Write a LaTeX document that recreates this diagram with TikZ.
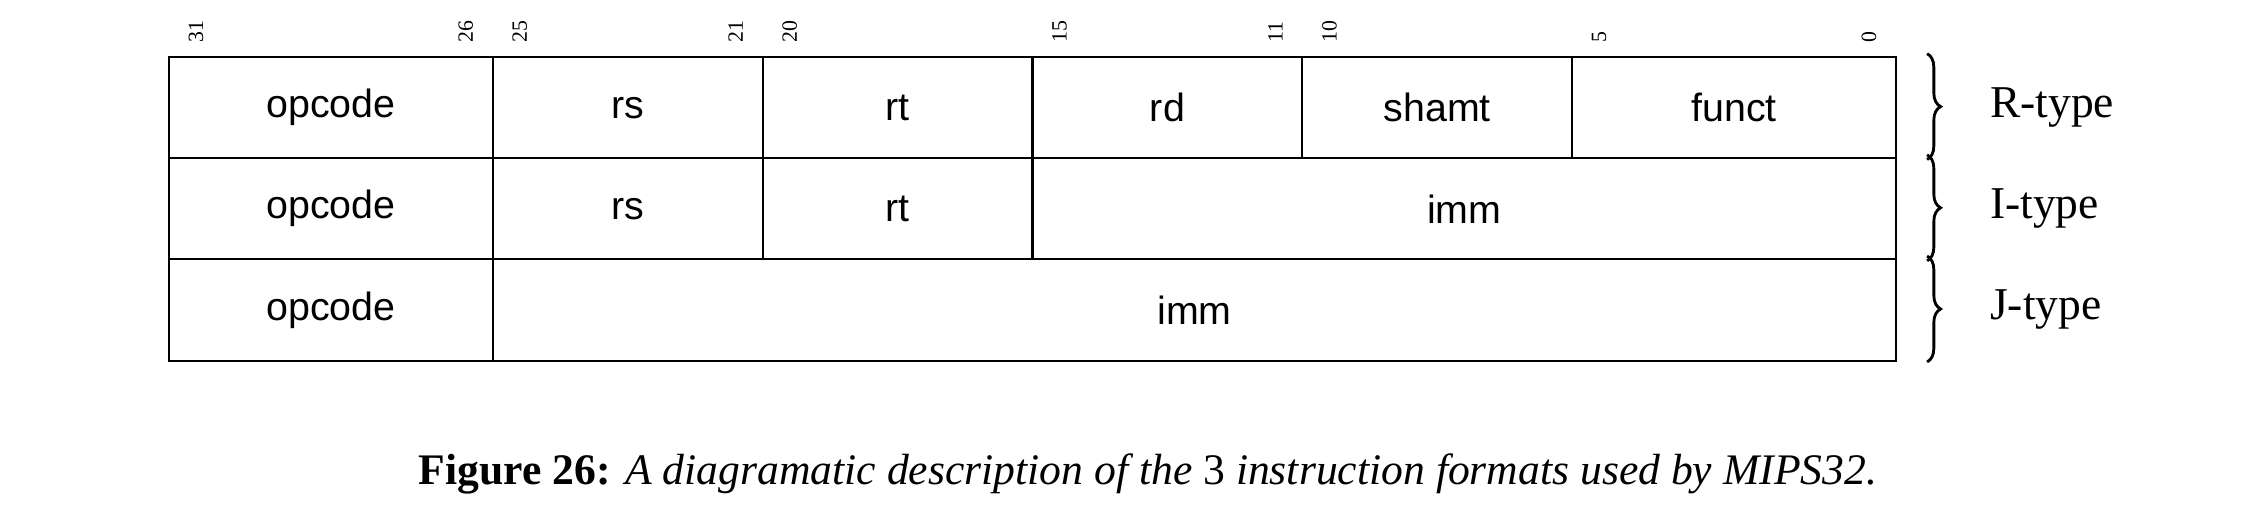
\documentclass[tikz,border=0pt]{standalone}
\usepackage{fontspec}
\setmainfont{Liberation Serif}
\setsansfont{Liberation Sans}
\usetikzlibrary{decorations.pathreplacing}
\tikzset{field/.style = {font=\sffamily\fontsize{8.3}{10}\selectfont, inner sep=0pt}}
\tikzset{bitnum/.style = {font=\fontsize{4.6}{5}\selectfont, rotate=90, anchor=west, inner sep=0pt}}
\tikzset{fmtlabel/.style = {font=\fontsize{9.6}{11}\selectfont, anchor=west, inner sep=0pt}}
\tikzset{fmtbrace/.style = {decorate, decoration={brace, amplitude=0.1cm}, line width=0.6pt}}

\begin{document}
\begin{tikzpicture}[line width=0.45pt]
  \useasboundingbox (-1.2525, 0.4225) rectangle (15.416, -3.4463);

  % R-type row
  \foreach \hi/\lo/\txt in {31/26/opcode, 25/21/rs, 20/16/rt, 15/11/rd, 10/6/shamt, 5/0/funct} {
    \draw ({0.4 * (31 - \hi)}, 0) rectangle ({0.4 * (32 - \lo)}, -0.75);
    \node [field] (r-\txt) at ({0.2 * (63 - \hi - \lo)}, -0.375) {\txt};
  }

  % I-type row
  \foreach \hi/\lo/\txt in {31/26/opcode, 25/21/rs, 20/16/rt, 15/0/imm} {
    \draw ({0.4 * (31 - \hi)}, -0.75) rectangle ({0.4 * (32 - \lo)}, -1.5);
    \node [field] (i-\txt) at ({0.2 * (63 - \hi - \lo)}, -1.125) {\txt};
  }

  % J-type row
  \foreach \hi/\lo/\txt in {31/26/opcode, 25/0/imm} {
    \draw ({0.4 * (31 - \hi)}, -1.5) rectangle ({0.4 * (32 - \lo)}, -2.25);
    \node [field] (j-\txt) at ({0.2 * (63 - \hi - \lo)}, -1.875) {\txt};
  }

  % bit numbers
  \foreach \b in {31,26,25,21,20,15,11,10,5,0} {
    \node [bitnum] (bit\b) at ({0.4 * (31.5 - \b)}, 0.1) {\b};
  }

  % braces and format names
  \foreach \kind/\row in {R/0, I/1, J/2} {
    \draw [fmtbrace] (13.03, {0.025 - 0.75 * \row}) -- (13.03, {-0.76 - 0.75 * \row});
    \node [fmtlabel] (\kind-type) at (13.49, {-0.375 - 0.75 * \row}) {\kind-type};
  }

  \node [anchor=base, inner sep=0pt, font=\fontsize{9.2}{11}\selectfont] (caption) at (7.256, -3.17)
    {\textbf{Figure 26:} \textit{A diagramatic description of the} \textup{3} \textit{instruction formats used by MIPS32.}};
\end{tikzpicture}
\end{document}
